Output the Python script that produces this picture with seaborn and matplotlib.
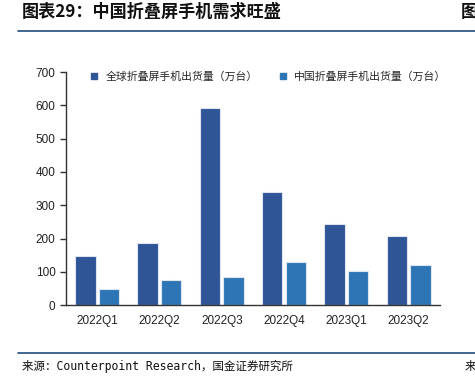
import pandas as pd
import seaborn as sns
import matplotlib.pyplot as plt
from matplotlib.lines import Line2D

quarters = ['2022Q1', '2022Q2', '2022Q3', '2022Q4', '2023Q1', '2023Q2']
global_ship = [147, 188, 592, 340, 245, 209]
china_ship = [50, 75, 86, 130, 104, 122]
series_names = ['全球折叠屏手机出货量（万台）', '中国折叠屏手机出货量（万台）']
colors = ['#2F5597', '#2E75B6']

df = pd.DataFrame({
    'quarter': quarters * 2,
    'value': global_ship + china_ship,
    'series': [series_names[0]] * 6 + [series_names[1]] * 6,
})

sns.set_style('white')
plt.rcParams['font.family'] = ['Liberation Sans', 'Noto Sans CJK SC', 'DejaVu Sans']
cjk = ['Noto Sans CJK SC', 'DejaVu Sans']

fig = plt.figure(figsize=(4.75, 3.81), dpi=100)
ax = fig.add_axes([0.139, 0.199, 0.787, 0.612])

sns.barplot(data=df, x='quarter', y='value', hue='series', palette=colors,
            saturation=1, width=0.76, gap=0.14, edgecolor='#dde5f0',
            linewidth=0.8, ax=ax)

ax.set_ylim(0, 700)
ax.set_yticks(range(0, 701, 100))
ax.set_xlim(-0.5, 5.5)
ax.set_xlabel('')
ax.set_ylabel('')
for s in ['top', 'right']:
    ax.spines[s].set_visible(False)
for s in ['left', 'bottom']:
    ax.spines[s].set_color('#333333')
    ax.spines[s].set_linewidth(1.0)

# ticks between categories on x, labels centered
ax.set_xticks([i - 0.5 for i in range(7)])
ax.set_xticklabels([''] * 7)
ax.set_xticks(range(6), minor=True)
ax.set_xticklabels(quarters, minor=True, fontsize=8.5, color='#222222')
ax.tick_params(axis='x', which='major', direction='out', length=4, width=1, color='#333333')
ax.tick_params(axis='x', which='minor', length=0, pad=7)
ax.tick_params(axis='y', direction='out', length=4, width=1, color='#333333',
               labelsize=8.5, labelcolor='#222222', left=True)

handles = [Line2D([0], [0], marker='s', linestyle='', markersize=5,
                  markerfacecolor=c, markeredgecolor=c) for c in colors]
ax.legend(handles, series_names, loc='upper left', bbox_to_anchor=(0.02, 1.045),
          ncol=2, frameon=False, handletextpad=0.05, columnspacing=1.3,
          prop={'family': cjk, 'size': 7.8})

# header / footer decoration
fig.text(0.046, 0.968, '图表29：中国折叠屏手机需求旺盛', fontsize=12.3, fontweight='bold',
         color='#111111', va='center', family=cjk)
fig.text(0.970, 0.968, '图', fontsize=12.3, fontweight='bold', color='#111111',
         va='center', family=cjk)
fig.add_artist(Line2D([0.038, 1.0], [0.919, 0.919], color='#1F4E79', linewidth=1.2))
fig.add_artist(Line2D([0.038, 1.0], [0.073, 0.073], color='#1F4E79', linewidth=1.2))
fig.text(0.046, 0.039, '来源：Counterpoint Research，国金证券研究所', fontsize=8.3,
         color='#111111', va='center', family=['DejaVu Sans Mono', 'Noto Sans CJK SC'])
fig.text(0.978, 0.039, '来', fontsize=8.3, color='#111111', va='center', family=cjk)

fig.savefig('out.png', dpi=100)
